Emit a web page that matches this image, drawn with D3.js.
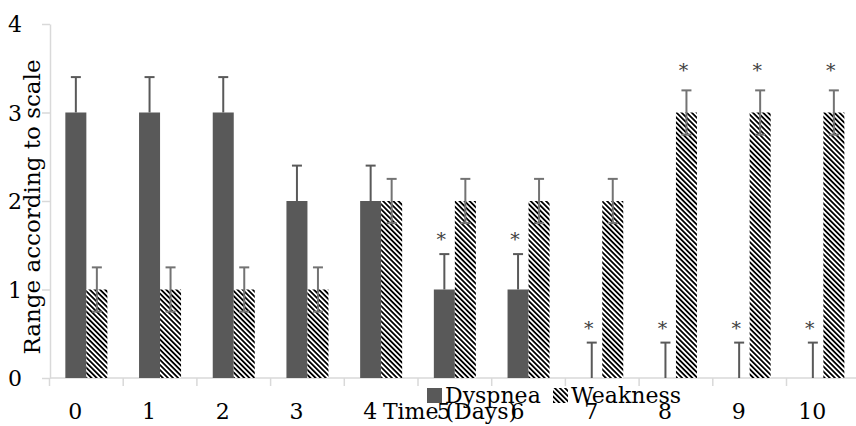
<!DOCTYPE html>
<html>
<head>
<meta charset="utf-8">
<script src="https://cdn.jsdelivr.net/npm/d3@7"></script>
<style>
  body { margin: 0; background: #fff; }
  svg text { font-family: "DejaVu Serif", serif; fill: #000; }
</style>
</head>
<body>
<div id="chart"></div>
<script>
const days = ["0", "1", "2", "3", "4", "5", "6", "7", "8", "9", "10"];
const dyspnea = [3, 3, 3, 2, 2, 1, 1, 0, 0, 0, 0];
const dyspneaErr = [0.4, 0.4, 0.4, 0.4, 0.4, 0.4, 0.4, 0.4, 0.4, 0.4, 0.4];
const weakness = [1, 1, 1, 1, 2, 2, 2, 2, 3, 3, 3];
const weaknessErr = [0.25, 0.25, 0.25, 0.25, 0.25, 0.25, 0.25, 0.25, 0.25, 0.25, 0.25];
const dyspneaStar = [false, false, false, false, false, true, true, true, true, true, true];
const weaknessStar = [false, false, false, false, false, false, false, false, true, true, true];
const yTicks = [0, 1, 2, 3, 4];
const seriesNames = ["Dyspnea", "Weakness"];

const width = 856, height = 426;
const margin = {top: 24, left: 50, bottom: 48};

const svg = d3.select("#chart").append("svg")
    .attr("width", width)
    .attr("height", height);

// hatch pattern for Weakness (down-right diagonals)
const defs = svg.append("defs");
const pat = defs.append("pattern")
    .attr("id", "hatch")
    .attr("patternUnits", "userSpaceOnUse")
    .attr("width", 3.6).attr("height", 3.6)
    .attr("patternTransform", "rotate(45)");
pat.append("rect").attr("width", 3.6).attr("height", 3.6).attr("fill", "#fff");
pat.append("line")
    .attr("x1", 0).attr("y1", 0.9).attr("x2", 3.6).attr("y2", 0.9)
    .attr("stroke", "#000").attr("stroke-width", 1.8);

const x = d3.scaleBand()
    .domain(days)
    .range([49.5, 49.5 + 11 * 73.7])
    .paddingInner(0.43)
    .paddingOuter(0.215);

const xs = d3.scaleBand()
    .domain(seriesNames)
    .range([0, x.bandwidth()]);

const y = d3.scaleLinear()
    .domain([0, 4])
    .range([height - margin.bottom, margin.top]);

const grey = "#d9d9d9";

// y axis
const yAxis = svg.append("g")
    .attr("transform", `translate(${margin.left},0)`)
    .call(d3.axisLeft(y).tickValues(yTicks).tickFormat(d3.format("d"))
        .tickSize(8).tickPadding(20).tickSizeOuter(0));
yAxis.select(".domain").attr("stroke", grey).attr("stroke-width", 1.5);
yAxis.selectAll(".tick line").attr("stroke", grey).attr("stroke-width", 1.5);
yAxis.selectAll(".tick text").style("font-size", "22px").attr("dy", "0.36em");

// x axis line + ticks at category boundaries
const step = x.step();
const bounds = days.map(d => x(d) - step * x.paddingInner() / 2);
bounds.push(bounds[bounds.length - 1] + step);
svg.append("line")
    .attr("x1", margin.left).attr("x2", width)
    .attr("y1", y(0)).attr("y2", y(0))
    .attr("stroke", grey).attr("stroke-width", 1.5);
svg.selectAll(".xtick")
    .data(bounds)
    .join("line")
    .attr("class", "xtick")
    .attr("x1", d => d).attr("x2", d => d)
    .attr("y1", y(0)).attr("y2", y(0) + 8)
    .attr("stroke", grey).attr("stroke-width", 1.5);

svg.selectAll(".xlabel")
    .data(days)
    .join("text")
    .attr("class", "xlabel")
    .attr("x", d => x(d) + x.bandwidth() / 2 - 11)
    .attr("y", 419)
    .attr("text-anchor", "middle")
    .style("font-size", "22px")
    .text(d => d);

// bars
const g = svg.append("g");
g.selectAll(".bar-d")
    .data(days)
    .join("rect")
    .attr("x", (d, i) => x(d) + xs("Dyspnea"))
    .attr("y", (d, i) => y(dyspnea[i]))
    .attr("width", xs.bandwidth())
    .attr("height", (d, i) => y(0) - y(dyspnea[i]))
    .attr("fill", "#595959");

g.selectAll(".bar-w")
    .data(days)
    .join("rect")
    .attr("x", (d, i) => x(d) + xs("Weakness"))
    .attr("y", (d, i) => y(weakness[i]))
    .attr("width", xs.bandwidth())
    .attr("height", (d, i) => y(0) - y(weakness[i]))
    .attr("fill", "url(#hatch)");

// error bars
function errorBars(name, vals, errs, both, color) {
    const cx = i => x(days[i]) + xs(name) + xs.bandwidth() / 2;
    const eg = svg.append("g").attr("stroke", color).attr("stroke-width", 2);
    days.forEach((d, i) => {
        const top = y(vals[i] + errs[i]);
        const bot = both ? y(vals[i] - errs[i]) : y(vals[i]);
        eg.append("line").attr("x1", cx(i)).attr("x2", cx(i)).attr("y1", top).attr("y2", bot);
        eg.append("line").attr("x1", cx(i) - 5).attr("x2", cx(i) + 5).attr("y1", top).attr("y2", top);
        if (both) eg.append("line").attr("x1", cx(i) - 5).attr("x2", cx(i) + 5).attr("y1", bot).attr("y2", bot);
    });
    return cx;
}
const cxD = errorBars("Dyspnea", dyspnea, dyspneaErr, false, "#595959");
const cxW = errorBars("Weakness", weakness, weaknessErr, true, "#737373");

// significance asterisks
function stars(flags, vals, errs, cx, gap) {
    svg.selectAll(null)
        .data(days.filter((d, i) => flags[i]))
        .join("text")
        .attr("x", d => cx(days.indexOf(d)) - 3)
        .attr("y", d => { const i = days.indexOf(d); return y(vals[i] + errs[i]) - gap; })
        .attr("text-anchor", "middle")
        .attr("dy", "0.75em")
        .style("font-size", "19px")
        .style("fill", "#404040")
        .text("*");
}
stars(dyspneaStar, dyspnea, dyspneaErr, cxD, 22);
stars(weaknessStar, weakness, weaknessErr, cxW, 28);

// axis titles
svg.append("text")
    .attr("transform", "translate(40,207) rotate(-90)")
    .attr("text-anchor", "middle")
    .style("font-size", "23px")
    .text("Range according to scale");

svg.append("text")
    .attr("x", 450).attr("y", 419)
    .attr("text-anchor", "middle")
    .style("font-size", "22px")
    .text("Time (Days)");

// legend
const legend = svg.append("g");
const legendItems = [
    {name: "Dyspnea", fill: "#595959", x: 427},
    {name: "Weakness", fill: "url(#hatch)", x: 553}
];
legend.selectAll("rect")
    .data(legendItems)
    .join("rect")
    .attr("x", d => d.x).attr("y", 388)
    .attr("width", 15).attr("height", 15)
    .attr("fill", d => d.fill);
legend.selectAll("text")
    .data(legendItems)
    .join("text")
    .attr("x", d => d.x + 18).attr("y", 403)
    .style("font-size", "22px")
    .text(d => d.name);
</script>
</body>
</html>
